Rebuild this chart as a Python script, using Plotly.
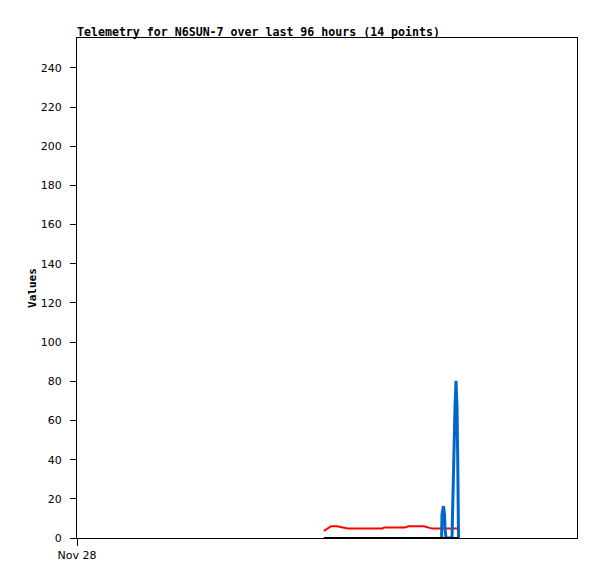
import plotly.graph_objects as go

# ── Data (hours since Nov 28 00:00) ───────────────────────────────────
red_hours = [47.4, 48.8, 49.9, 50.9, 52.0, 58.6, 59.0, 63.0, 63.6, 66.6, 67.4, 68.2, 73.2]
red_values = [3.6, 6.0, 6.0, 5.3, 4.8, 4.8, 5.3, 5.3, 6.0, 6.0, 5.3, 4.8, 4.8]

black_hours = [47.4, 73.2]
black_values = [0.0, 0.0]

blue_hours = [70.0, 70.08, 70.37, 70.56, 70.66, 70.85, 72.0, 72.1,
              72.39, 72.58, 72.77, 72.96, 73.1, 73.2, 73.25]
blue_values = [0, 12, 16.3, 12, 5, 0, 0, 13.6, 40.2, 67, 80.2, 67, 40.2, 13.6, 0]

x_tickvals = [0]
x_ticktext = ["Nov 28"]
y_tickvals = list(range(0, 241, 20))

MONO = "DejaVu Sans Mono, monospace"
SANS = "DejaVu Sans, Arial, sans-serif"

# page body adds an 8px offset, so margins are trimmed by that
fig = go.Figure()
fig.add_trace(go.Scatter(x=red_hours, y=red_values, mode="lines",
                         line=dict(color="#ff0000", width=2)))
fig.add_trace(go.Scatter(x=blue_hours, y=blue_values, mode="lines",
                         line=dict(color="#0066cc", width=3)))
fig.add_trace(go.Scatter(x=black_hours, y=black_values, mode="lines",
                         line=dict(color="#000000", width=2)))

fig.update_layout(
    width=597, height=579,
    margin=dict(l=69, r=28, t=30, b=49, autoexpand=False),
    paper_bgcolor="white", plot_bgcolor="white",
    showlegend=False,
    font=dict(family=SANS, size=11, color="black"),
)
fig.update_xaxes(
    range=[0, 96], tickvals=x_tickvals, ticktext=x_ticktext,
    showgrid=False, zeroline=False, automargin=False,
    showline=True, linecolor="black", linewidth=1, mirror=True,
    ticks="outside", ticklen=7, tickcolor="black",
    tickfont=dict(family=SANS, size=11),
)
fig.update_yaxes(
    range=[0, 255.3], tickvals=y_tickvals,
    showgrid=False, zeroline=False, automargin=False,
    showline=True, linecolor="black", linewidth=1, mirror=True,
    ticks="outside", ticklen=6, tickcolor="black", ticklabelstandoff=6,
    tickfont=dict(family=SANS, size=11),
    title=dict(text="<b>Values</b>", font=dict(family=MONO, size=11), standoff=1),
)
fig.add_annotation(
    x=0, y=1, xref="paper", yref="paper", xanchor="left", yanchor="bottom",
    text="<b>Telemetry for N6SUN-7 over last 96 hours (14 points)</b>",
    showarrow=False, font=dict(family=MONO, size=11.6, color="black"),
    xshift=-2, yshift=-3,
)

fig.write_html("out.html")
